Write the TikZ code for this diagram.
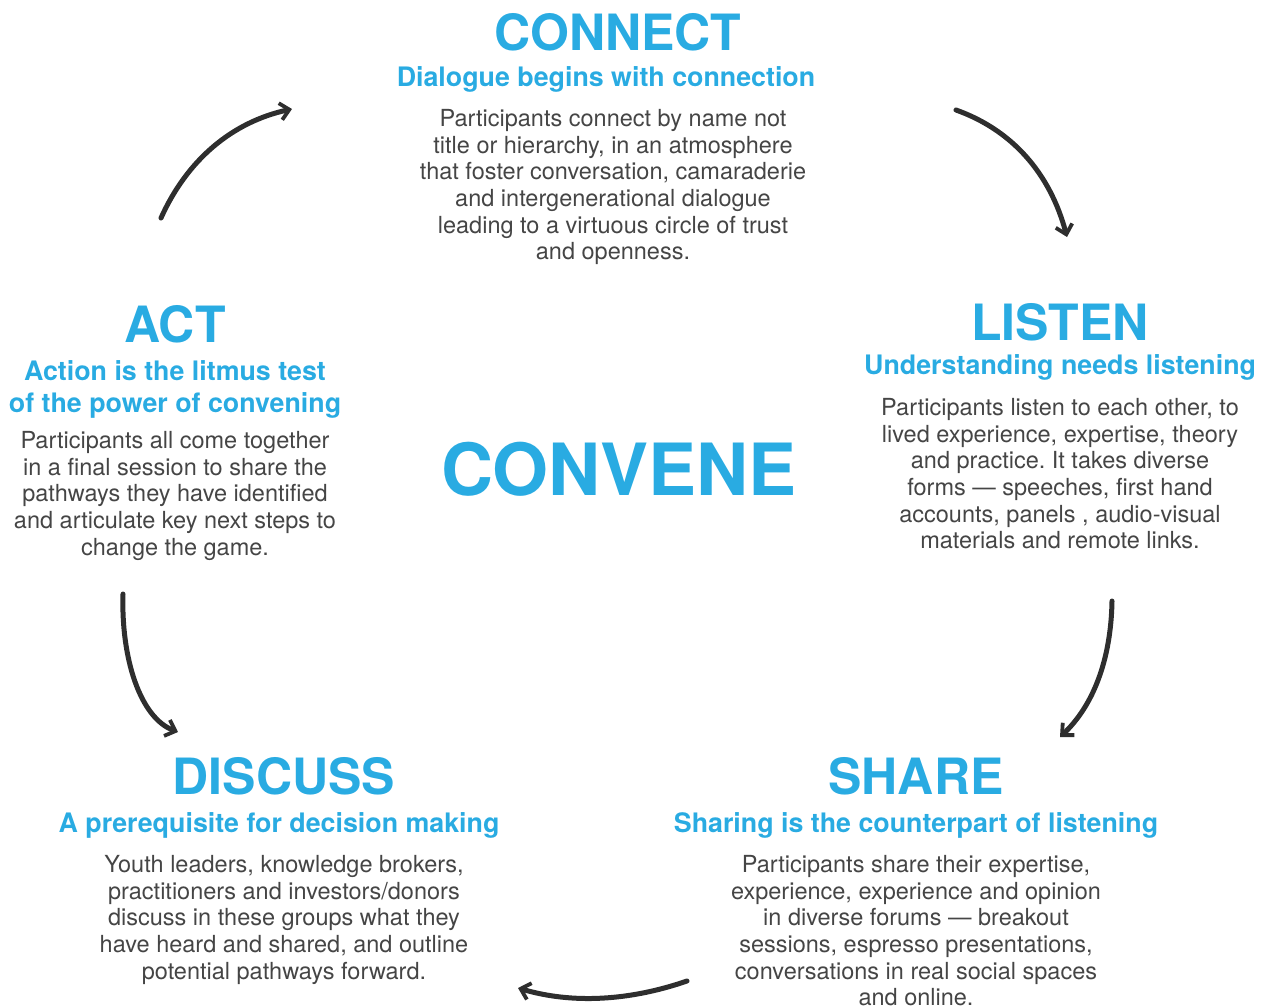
\documentclass[tikz,border=0pt]{standalone}
\usepackage{fontspec}
\setmainfont{TeX Gyre Heros}
\usepackage{tikz}
\usetikzlibrary{arrows.meta}
\frenchspacing
\definecolor{conveneblue}{HTML}{29ABE2}
\definecolor{bodygray}{HTML}{454545}
\definecolor{arrowgray}{HTML}{2E2E2E}
\tikzset{>={Straight Barb[length=9pt,width=17pt,line width=3.8pt]}}
\tikzset{
  stagetitle/.style = {anchor = base, inner sep = 0pt, text = conveneblue,
    font = \fontsize{50}{50}\selectfont\bfseries},
  stagesub/.style = {anchor = base, inner sep = 0pt, text = conveneblue, align = center,
    font = \fontsize{26.8}{32}\selectfont\bfseries},
  stagebody/.style = {anchor = north, inner sep = 0pt, text = bodygray, align = center,
    font = \fontsize{23.5}{26.7}\selectfont},
  cyclearrow/.style = {->, arrowgray, line width = 5pt, line cap = round}
}

\begin{document}
\begin{tikzpicture}[x = 1pt, y = -1pt]
\useasboundingbox (0,0) rectangle (1266,1007);

% centre
\node[anchor = base, inner sep = 0pt, text = conveneblue,
  font = \fontsize{72}{72}\selectfont\bfseries] (convene) at (619,495) {CONVENE};

% connect
\node[stagetitle] (connect) at (618,50) {CONNECT};
\node[stagesub] (connectsub) at (606,86) {Dialogue begins with connection};
\node[stagebody] (connectbody) at (613,109) {Participants connect by name not\\
  title or hierarchy, in an atmosphere\\ that foster conversation, camaraderie\\
  and intergenerational dialogue\\ leading to a virtuous circle of trust\\ and openness.};

% listen
\node[stagetitle] (listen) at (1060,340) {LISTEN};
\node[stagesub] (listensub) at (1060,374) {Understanding needs listening};
\node[stagebody] (listenbody) at (1060,398) {Participants listen to each other, to\\
  lived experience, expertise, theory\\ and practice. It takes diverse\\
  forms --- speeches, first hand\\ accounts, panels , audio-visual\\ materials and remote links.};

% share
\node[stagetitle] (share) at (916,794) {SHARE};
\node[stagesub] (sharesub) at (916,832) {Sharing is the counterpart of listening};
\node[stagebody] (sharebody) at (916,855) {Participants share their expertise,\\
  experience, experience and opinion\\ in diverse forums --- breakout\\
  sessions, espresso presentations,\\ conversations in real social spaces\\ and online.};

% discuss
\node[stagetitle] (discuss) at (284,794) {DISCUSS};
\node[stagesub] (discusssub) at (279,832) {A prerequisite for decision making};
\node[stagebody] (discussbody) at (284,855) {Youth leaders, knowledge brokers,\\
  practitioners and investors/donors\\ discuss in these groups what they\\
  have heard and shared, and outline\\ potential pathways forward.};

% act
\node[stagetitle] (act) at (175,342) {ACT};
\node[stagesub] (actsub) at (175,412) {Action is the litmus test\\ of the power of convening};
\node[stagebody] (actbody) at (175,431) {Participants all come together\\
  in a final session to share the\\ pathways they have identified\\
  and articulate key next steps to\\ change the game.};

% arrows of the cycle
\coordinate (a1s) at (161,218);  \coordinate (a1e) at (292,109);
\coordinate (a2s) at (956,110);  \coordinate (a2e) at (1067,237);
\coordinate (a3s) at (1112,601); \coordinate (a3e) at (1060,737);
\coordinate (a4s) at (687,981);  \coordinate (a4e) at (518,988);
\coordinate (a5s) at (123,594);  \coordinate (a5e) at (178,732);

\draw[cyclearrow] (a1s) .. controls (187,160) and (232,122) .. (a1e);
\draw[cyclearrow] (a2s) .. controls (1012,130) and (1050,173) .. (a2e);
\draw[cyclearrow] (a3s) .. controls (1111,660) and (1093,706) .. (a3e);
\draw[cyclearrow] (a4s) .. controls (629,1001) and (572,1004) .. (a4e);
\draw[cyclearrow] (a5s) .. controls (121,658) and (140,718) .. (a5e);
\end{tikzpicture}
\end{document}
